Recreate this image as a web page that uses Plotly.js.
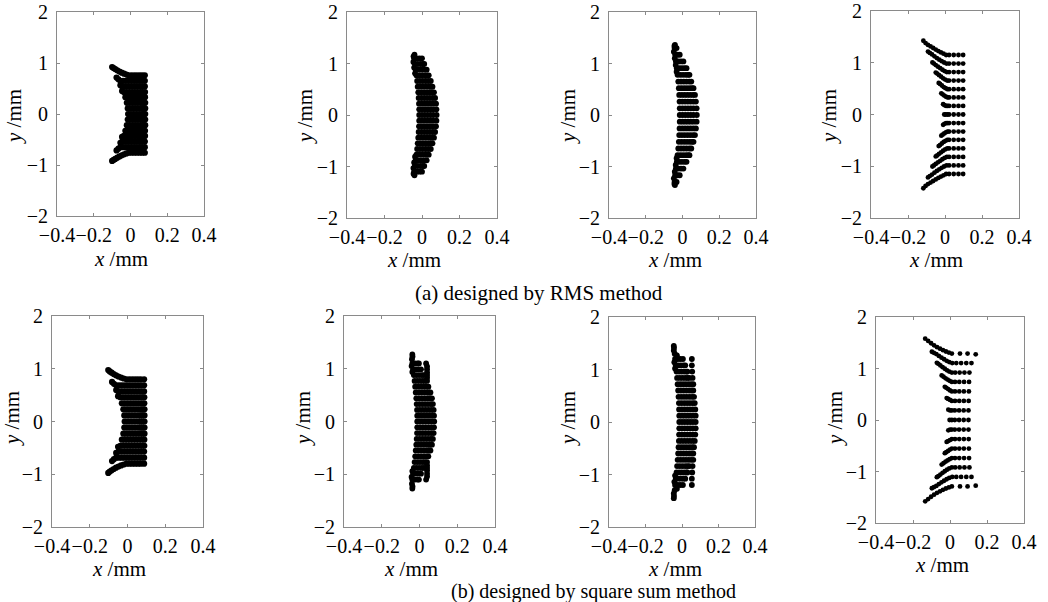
<!DOCTYPE html>
<html>
<head>
<meta charset="utf-8">
<script src="https://cdn.plot.ly/plotly-3.0.1.min.js"></script>
<style>
  html, body { margin: 0; padding: 0; background: #ffffff; }
  #chart { width: 1048px; height: 602px; }
</style>
</head>
<body>
<div id="chart"></div>
<script>
// Spot diagrams, coordinates in mm.
// Row arrays: [row y, x of each spot on that row]
// End arrays: [x, y] spots where a row bends away from its line

// ---- (a) designed by RMS method ----
const a1Rows = [
  [0.76, -0.01, 0.005, 0.02, 0.035, 0.05, 0.064, 0.078],
  [0.65, -0.055, -0.04, -0.025, -0.01, 0.005, 0.02, 0.035, 0.05, 0.064, 0.078],
  [0.54, -0.045, -0.03, -0.015, 0, 0.015, 0.03, 0.045, 0.06, 0.078],
  [0.43, -0.036, -0.021, -0.006, 0.009, 0.024, 0.039, 0.054, 0.066, 0.079],
  [0.33, -0.028, -0.013, 0.002, 0.017, 0.032, 0.047, 0.062, 0.079],
  [0.22, -0.02, -0.005, 0.01, 0.025, 0.04, 0.055, 0.068, 0.08],
  [0.11, -0.015, 0, 0.015, 0.03, 0.045, 0.06, 0.07, 0.08],
  [0, -0.013, 0.002, 0.017, 0.032, 0.047, 0.062, 0.071, 0.08],
  [-0.11, -0.015, 0, 0.015, 0.03, 0.045, 0.06, 0.07, 0.08],
  [-0.22, -0.02, -0.005, 0.01, 0.025, 0.04, 0.055, 0.068, 0.08],
  [-0.33, -0.028, -0.013, 0.002, 0.017, 0.032, 0.047, 0.062, 0.079],
  [-0.43, -0.036, -0.021, -0.006, 0.009, 0.024, 0.039, 0.054, 0.066, 0.079],
  [-0.54, -0.045, -0.03, -0.015, 0, 0.015, 0.03, 0.045, 0.06, 0.078],
  [-0.65, -0.055, -0.04, -0.025, -0.01, 0.005, 0.02, 0.035, 0.05, 0.064, 0.078],
  [-0.76, -0.01, 0.005, 0.02, 0.035, 0.05, 0.064, 0.078]
];
const a1Ends = [
  [-0.022, 0.773], [-0.035, 0.79], [-0.048, 0.81], [-0.06, 0.832], [-0.072, 0.856],
  [-0.083, 0.88], [-0.092, 0.9], [-0.1, 0.92], [-0.066, 0.68], [-0.076, 0.715],
  [-0.055, 0.565], [-0.046, 0.45],
  [-0.022, -0.773], [-0.035, -0.79], [-0.048, -0.81], [-0.06, -0.832], [-0.072, -0.856],
  [-0.083, -0.88], [-0.092, -0.9], [-0.1, -0.92], [-0.066, -0.68], [-0.076, -0.715],
  [-0.055, -0.565], [-0.046, -0.45]
];

const a2Rows = [
  [1.1, -0.042, -0.028, -0.014, 0],
  [0.99, -0.038, -0.023, -0.008, 0.004, 0.012],
  [0.88, -0.034, -0.019, -0.004, 0.01, 0.025],
  [0.77, -0.03, -0.015, 0, 0.015, 0.026, 0.036],
  [0.66, -0.026, -0.011, 0.004, 0.019, 0.033, 0.047],
  [0.55, -0.023, -0.008, 0.007, 0.022, 0.037, 0.048, 0.056],
  [0.44, -0.02, -0.005, 0.01, 0.025, 0.04, 0.053, 0.064],
  [0.33, -0.018, -0.003, 0.012, 0.027, 0.042, 0.057, 0.07],
  [0.22, -0.016, -0.001, 0.014, 0.029, 0.044, 0.059, 0.075],
  [0.11, -0.015, 0, 0.015, 0.03, 0.045, 0.06, 0.077],
  [0, -0.015, 0, 0.015, 0.03, 0.045, 0.06, 0.078],
  [-0.11, -0.015, 0, 0.015, 0.03, 0.045, 0.06, 0.077],
  [-0.22, -0.016, -0.001, 0.014, 0.029, 0.044, 0.059, 0.075],
  [-0.33, -0.018, -0.003, 0.012, 0.027, 0.042, 0.057, 0.07],
  [-0.44, -0.02, -0.005, 0.01, 0.025, 0.04, 0.053, 0.064],
  [-0.55, -0.023, -0.008, 0.007, 0.022, 0.037, 0.048, 0.056],
  [-0.66, -0.026, -0.011, 0.004, 0.019, 0.033, 0.047],
  [-0.77, -0.03, -0.015, 0, 0.015, 0.026, 0.036],
  [-0.88, -0.034, -0.019, -0.004, 0.01, 0.025],
  [-0.99, -0.038, -0.023, -0.008, 0.004, 0.012],
  [-1.1, -0.042, -0.028, -0.014, 0]
];
const a2Ends = [
  [-0.045, 1.14], [-0.04, 1.17], [-0.046, 1.03], [-0.042, 0.92], [-0.037, 0.81],
  [-0.045, -1.14], [-0.04, -1.17], [-0.046, -1.03], [-0.042, -0.92], [-0.037, -0.81]
];

const a3Rows = [
  [1.3, -0.043, -0.032],
  [1.17, -0.04, -0.027, -0.015],
  [1.04, -0.036, -0.022, -0.008, 0.005],
  [0.91, -0.031, -0.017, -0.003, 0.011, 0.022],
  [0.78, -0.027, -0.012, 0.003, 0.018, 0.03, 0.038],
  [0.65, -0.023, -0.008, 0.007, 0.022, 0.037, 0.048],
  [0.52, -0.02, -0.005, 0.01, 0.025, 0.04, 0.052, 0.06],
  [0.39, -0.018, -0.003, 0.012, 0.027, 0.042, 0.057, 0.068],
  [0.26, -0.016, -0.001, 0.014, 0.029, 0.044, 0.059, 0.073],
  [0.13, -0.015, 0, 0.015, 0.03, 0.045, 0.06, 0.077],
  [0, -0.015, 0, 0.015, 0.03, 0.045, 0.06, 0.078],
  [-0.13, -0.015, 0, 0.015, 0.03, 0.045, 0.06, 0.077],
  [-0.26, -0.016, -0.001, 0.014, 0.029, 0.044, 0.059, 0.073],
  [-0.39, -0.018, -0.003, 0.012, 0.027, 0.042, 0.057, 0.068],
  [-0.52, -0.02, -0.005, 0.01, 0.025, 0.04, 0.052, 0.06],
  [-0.65, -0.023, -0.008, 0.007, 0.022, 0.037, 0.048],
  [-0.78, -0.027, -0.012, 0.003, 0.018, 0.03, 0.038],
  [-0.91, -0.031, -0.017, -0.003, 0.011, 0.022],
  [-1.04, -0.036, -0.022, -0.008, 0.005],
  [-1.17, -0.04, -0.027, -0.015],
  [-1.3, -0.043, -0.032]
];
const a3Ends = [
  [-0.044, 1.34], [-0.041, 1.36], [-0.047, 1.23], [-0.042, 1.1], [-0.037, 0.97], [-0.032, 0.84],
  [-0.044, -1.34], [-0.041, -1.36], [-0.047, -1.23], [-0.042, -1.1], [-0.037, -0.97], [-0.032, -0.84]
];

const a4Rows = [
  [1.15, 0.098, 0.073, 0.047, 0.022, 0.006],
  [0.985, 0.098, 0.073, 0.047, 0.022, 0.008],
  [0.82, 0.098, 0.073, 0.047, 0.022, 0.01],
  [0.655, 0.098, 0.073, 0.047, 0.022, 0.012],
  [0.49, 0.098, 0.073, 0.047, 0.022, 0.013],
  [0.33, 0.098, 0.073, 0.047, 0.022, 0.014],
  [0.165, 0.098, 0.073, 0.047, 0.022, 0.014, 0.006],
  [0, 0.098, 0.073, 0.047, 0.022, 0.013, 0.004, -0.004],
  [-0.165, 0.098, 0.073, 0.047, 0.022, 0.014, 0.006],
  [-0.33, 0.098, 0.073, 0.047, 0.022, 0.014],
  [-0.49, 0.098, 0.073, 0.047, 0.022, 0.013],
  [-0.655, 0.098, 0.073, 0.047, 0.022, 0.012],
  [-0.82, 0.098, 0.073, 0.047, 0.022, 0.01],
  [-0.985, 0.098, 0.073, 0.047, 0.022, 0.008],
  [-1.15, 0.098, 0.073, 0.047, 0.022, 0.006]
];
const a4Ends = [
  [-0.008, 1.175], [-0.022, 1.2], [-0.036, 1.225], [-0.05, 1.255], [-0.064, 1.285],
  [-0.078, 1.315], [-0.092, 1.345], [-0.105, 1.38], [-0.117, 1.425],
  [-0.005, 1.005], [-0.018, 1.03], [-0.031, 1.06], [-0.044, 1.09], [-0.057, 1.125],
  [-0.07, 1.16], [-0.082, 1.19], [-0.092, 1.215],
  [-0.002, 0.84], [-0.014, 0.865], [-0.026, 0.895], [-0.038, 0.925], [-0.05, 0.955],
  [-0.06, 0.985], [-0.068, 1.005],
  [0.001, 0.675], [-0.01, 0.7], [-0.021, 0.73], [-0.032, 0.76], [-0.042, 0.79], [-0.05, 0.81],
  [0.003, 0.508], [-0.007, 0.53], [-0.017, 0.56], [-0.027, 0.59], [-0.034, 0.61],
  [0.005, 0.345], [-0.004, 0.365], [-0.013, 0.39], [-0.02, 0.41],
  [-0.003, 0.18], [-0.01, 0.2],
  [-0.008, -1.175], [-0.022, -1.2], [-0.036, -1.225], [-0.05, -1.255], [-0.064, -1.285],
  [-0.078, -1.315], [-0.092, -1.345], [-0.105, -1.38], [-0.117, -1.425],
  [-0.005, -1.005], [-0.018, -1.03], [-0.031, -1.06], [-0.044, -1.09], [-0.057, -1.125],
  [-0.07, -1.16], [-0.082, -1.19], [-0.092, -1.215],
  [-0.002, -0.84], [-0.014, -0.865], [-0.026, -0.895], [-0.038, -0.925], [-0.05, -0.955],
  [-0.06, -0.985], [-0.068, -1.005],
  [0.001, -0.675], [-0.01, -0.7], [-0.021, -0.73], [-0.032, -0.76], [-0.042, -0.79], [-0.05, -0.81],
  [0.003, -0.508], [-0.007, -0.53], [-0.017, -0.56], [-0.027, -0.59], [-0.034, -0.61],
  [0.005, -0.345], [-0.004, -0.365], [-0.013, -0.39], [-0.02, -0.41],
  [-0.003, -0.18], [-0.01, -0.2]
];

// ---- (b) designed by square sum method ----
const b1Rows = [
  [0.8, -0.005, 0.01, 0.025, 0.04, 0.055, 0.07, 0.088],
  [0.685, -0.06, -0.045, -0.03, -0.015, 0, 0.015, 0.03, 0.045, 0.06, 0.074, 0.088],
  [0.57, -0.048, -0.033, -0.018, -0.003, 0.012, 0.027, 0.042, 0.057, 0.072, 0.088],
  [0.46, -0.038, -0.023, -0.008, 0.007, 0.022, 0.037, 0.052, 0.067, 0.079, 0.089],
  [0.345, -0.03, -0.015, 0, 0.015, 0.03, 0.045, 0.06, 0.075, 0.089],
  [0.23, -0.022, -0.007, 0.008, 0.023, 0.038, 0.053, 0.068, 0.08, 0.09],
  [0.115, -0.017, -0.002, 0.013, 0.028, 0.043, 0.058, 0.07, 0.08, 0.09],
  [0, -0.015, 0, 0.015, 0.03, 0.045, 0.06, 0.07, 0.08, 0.09],
  [-0.115, -0.017, -0.002, 0.013, 0.028, 0.043, 0.058, 0.07, 0.08, 0.09],
  [-0.23, -0.022, -0.007, 0.008, 0.023, 0.038, 0.053, 0.068, 0.08, 0.09],
  [-0.345, -0.03, -0.015, 0, 0.015, 0.03, 0.045, 0.06, 0.075, 0.089],
  [-0.46, -0.038, -0.023, -0.008, 0.007, 0.022, 0.037, 0.052, 0.067, 0.079, 0.089],
  [-0.57, -0.048, -0.033, -0.018, -0.003, 0.012, 0.027, 0.042, 0.057, 0.072, 0.088],
  [-0.685, -0.06, -0.045, -0.03, -0.015, 0, 0.015, 0.03, 0.045, 0.06, 0.074, 0.088],
  [-0.8, -0.005, 0.01, 0.025, 0.04, 0.055, 0.07, 0.088]
];
const b1Ends = [
  [-0.02, 0.815], [-0.034, 0.832], [-0.048, 0.853], [-0.061, 0.876], [-0.073, 0.9],
  [-0.084, 0.925], [-0.094, 0.95], [-0.102, 0.975], [-0.072, 0.715], [-0.082, 0.75],
  [-0.06, 0.595], [-0.05, 0.48],
  [-0.02, -0.815], [-0.034, -0.832], [-0.048, -0.853], [-0.061, -0.876], [-0.073, -0.9],
  [-0.084, -0.925], [-0.094, -0.95], [-0.102, -0.975], [-0.072, -0.715], [-0.082, -0.75],
  [-0.06, -0.595], [-0.05, -0.48]
];

const b2Rows = [
  [1.1, -0.038, -0.024, -0.01, -0.003, 0.035],
  [0.99, -0.034, -0.02, -0.006, 0.008, 0.04],
  [0.88, -0.03, -0.016, -0.002, 0.012, 0.022, 0.04],
  [0.77, -0.026, -0.012, 0.002, 0.016, 0.028, 0.04],
  [0.66, -0.023, -0.008, 0.007, 0.022, 0.035, 0.047],
  [0.55, -0.02, -0.005, 0.01, 0.025, 0.04, 0.05, 0.058],
  [0.44, -0.017, -0.002, 0.013, 0.028, 0.043, 0.056, 0.066],
  [0.33, -0.015, 0, 0.015, 0.03, 0.045, 0.06, 0.071],
  [0.22, -0.013, 0.002, 0.017, 0.032, 0.047, 0.062, 0.075],
  [0.11, -0.012, 0.003, 0.018, 0.033, 0.048, 0.063, 0.077],
  [0, -0.012, 0.003, 0.018, 0.033, 0.048, 0.063, 0.078],
  [-0.11, -0.012, 0.003, 0.018, 0.033, 0.048, 0.063, 0.077],
  [-0.22, -0.013, 0.002, 0.017, 0.032, 0.047, 0.062, 0.075],
  [-0.33, -0.015, 0, 0.015, 0.03, 0.045, 0.06, 0.071],
  [-0.44, -0.017, -0.002, 0.013, 0.028, 0.043, 0.056, 0.066],
  [-0.55, -0.02, -0.005, 0.01, 0.025, 0.04, 0.05, 0.058],
  [-0.66, -0.023, -0.008, 0.007, 0.022, 0.035, 0.047],
  [-0.77, -0.026, -0.012, 0.002, 0.016, 0.028, 0.04],
  [-0.88, -0.03, -0.016, -0.002, 0.012, 0.022, 0.04],
  [-0.99, -0.034, -0.02, -0.006, 0.008, 0.04],
  [-1.1, -0.038, -0.024, -0.01, -0.003, 0.035]
];
const b2Ends = [
  [-0.04, 1.18], [-0.037, 1.23], [-0.038, 1.27], [-0.042, 1.05], [-0.038, 0.94],
  [0.04, 1.045], [0.04, 0.93], [0.04, 0.83],
  [-0.04, -1.18], [-0.037, -1.23], [-0.038, -1.27], [-0.042, -1.05], [-0.038, -0.94],
  [0.04, -1.045], [0.04, -0.93], [0.04, -0.83]
];

const b3Rows = [
  [1.2, -0.038, -0.024, -0.01, 0.005, 0.054],
  [1.08, -0.034, -0.02, -0.006, 0.008, 0.018, 0.054],
  [0.96, -0.03, -0.016, -0.002, 0.012, 0.024, 0.03, 0.056],
  [0.84, -0.027, -0.012, 0.003, 0.018, 0.03, 0.04, 0.058],
  [0.72, -0.024, -0.009, 0.006, 0.021, 0.036, 0.05, 0.062],
  [0.6, -0.021, -0.006, 0.009, 0.024, 0.039, 0.052, 0.062],
  [0.48, -0.019, -0.004, 0.011, 0.026, 0.041, 0.055, 0.066],
  [0.36, -0.017, -0.002, 0.013, 0.028, 0.043, 0.058, 0.07],
  [0.24, -0.016, -0.001, 0.014, 0.029, 0.044, 0.059, 0.073],
  [0.12, -0.015, 0, 0.015, 0.03, 0.045, 0.06, 0.075],
  [0, -0.015, 0, 0.015, 0.03, 0.045, 0.06, 0.075],
  [-0.12, -0.015, 0, 0.015, 0.03, 0.045, 0.06, 0.075],
  [-0.24, -0.016, -0.001, 0.014, 0.029, 0.044, 0.059, 0.073],
  [-0.36, -0.017, -0.002, 0.013, 0.028, 0.043, 0.058, 0.07],
  [-0.48, -0.019, -0.004, 0.011, 0.026, 0.041, 0.055, 0.066],
  [-0.6, -0.021, -0.006, 0.009, 0.024, 0.039, 0.052, 0.062],
  [-0.72, -0.024, -0.009, 0.006, 0.021, 0.036, 0.05, 0.062],
  [-0.84, -0.027, -0.012, 0.003, 0.018, 0.03, 0.04, 0.058],
  [-0.96, -0.03, -0.016, -0.002, 0.012, 0.024, 0.03, 0.056],
  [-1.08, -0.034, -0.02, -0.006, 0.008, 0.018, 0.054],
  [-1.2, -0.038, -0.024, -0.01, 0.005, 0.054]
];
const b3Ends = [
  [-0.028, 1.27], [-0.04, 1.3], [-0.045, 1.36], [-0.044, 1.41], [-0.045, 1.45],
  [-0.042, 1.14], [-0.038, 1.02],
  [-0.028, -1.27], [-0.04, -1.3], [-0.045, -1.36], [-0.044, -1.41], [-0.045, -1.45],
  [-0.042, -1.14], [-0.038, -1.02]
];

const b4Rows = [
  [1.29, 0.095, 0.054, 0.01],
  [1.105, 0.116, 0.088, 0.06, 0.034, 0.012],
  [0.92, 0.105, 0.078, 0.052, 0.028, 0.01],
  [0.74, 0.103, 0.076, 0.05, 0.027, 0.01],
  [0.555, 0.102, 0.075, 0.05, 0.027, 0.01],
  [0.37, 0.101, 0.075, 0.05, 0.027, 0.01],
  [0.185, 0.1, 0.074, 0.049, 0.026, 0.01, 0],
  [0, 0.1, 0.074, 0.049, 0.026, 0.01, -0.002],
  [-0.185, 0.1, 0.074, 0.049, 0.026, 0.01, 0],
  [-0.37, 0.101, 0.075, 0.05, 0.027, 0.01],
  [-0.555, 0.102, 0.075, 0.05, 0.027, 0.01],
  [-0.74, 0.103, 0.076, 0.05, 0.027, 0.01],
  [-0.92, 0.105, 0.078, 0.052, 0.028, 0.01],
  [-1.105, 0.116, 0.088, 0.06, 0.034, 0.012],
  [-1.29, 0.095, 0.054, 0.01]
];
const b4Ends = [
  [0.139, 1.275],
  [-0.006, 1.31], [-0.022, 1.33], [-0.038, 1.355], [-0.054, 1.385], [-0.07, 1.415],
  [-0.086, 1.45], [-0.102, 1.49], [-0.118, 1.535], [-0.134, 1.58],
  [-0.004, 1.125], [-0.018, 1.15], [-0.032, 1.18], [-0.046, 1.21], [-0.06, 1.245],
  [-0.074, 1.28], [-0.087, 1.305], [-0.098, 1.325],
  [-0.004, 0.94], [-0.016, 0.965], [-0.028, 0.995], [-0.04, 1.025], [-0.052, 1.06],
  [-0.063, 1.09], [-0.071, 1.11],
  [-0.002, 0.76], [-0.013, 0.785], [-0.024, 0.81], [-0.035, 0.84], [-0.045, 0.865],
  [0, 0.575], [-0.01, 0.6], [-0.02, 0.625], [-0.028, 0.645],
  [0, 0.39], [-0.01, 0.41], [-0.018, 0.425],
  [-0.009, 0.2],
  [0.139, -1.275],
  [-0.006, -1.31], [-0.022, -1.33], [-0.038, -1.355], [-0.054, -1.385], [-0.07, -1.415],
  [-0.086, -1.45], [-0.102, -1.49], [-0.118, -1.535], [-0.134, -1.58],
  [-0.004, -1.125], [-0.018, -1.15], [-0.032, -1.18], [-0.046, -1.21], [-0.06, -1.245],
  [-0.074, -1.28], [-0.087, -1.305], [-0.098, -1.325],
  [-0.004, -0.94], [-0.016, -0.965], [-0.028, -0.995], [-0.04, -1.025], [-0.052, -1.06],
  [-0.063, -1.09], [-0.071, -1.11],
  [-0.002, -0.76], [-0.013, -0.785], [-0.024, -0.81], [-0.035, -0.84], [-0.045, -0.865],
  [0, -0.575], [-0.01, -0.6], [-0.02, -0.625], [-0.028, -0.645],
  [0, -0.39], [-0.01, -0.41], [-0.018, -0.425],
  [-0.009, -0.2]
];

// Tick labels and axis titles
const xTickVals = [-0.4, -0.2, 0, 0.2, 0.4];
const xTickText = ['\u22120.4', '\u22120.2', '0', '0.2', '0.4'];
const yTickVals = [-2, -1, 0, 1, 2];
const yTickText = ['\u22122', '\u22121', '0', '1', '2'];
const xTitle = '<i>x</i> /mm';
const yTitle = '<i>y</i> /mm';

const captions = ['(a) designed by RMS method', '(b) designed by square sum method'];

// ---- drawing ----
const W = 1048, H = 602;
const FONT = 'Liberation Serif, Times New Roman, serif';

// plot-area boxes in px: [left, top, right, bottom]
const boxes = [
  [57, 12, 204, 216], [347, 12, 497, 218], [609, 12, 756, 218], [871, 11, 1019, 218],
  [52, 316, 203, 527], [344, 316, 495, 527], [609, 317, 755, 527], [876, 317, 1024, 523]
];
// spot marker diameter per panel (px)
const spotSize = [6.2, 5.8, 5.8, 4.8, 6.2, 5.8, 5.8, 4.8];
// axis-title centres in px: [x-title cx, x-title cy, y-title cx, y-title cy]
const titlePos = [
  [121, 259, 14, 117], [414, 260, 305, 117], [675, 260, 568, 117], [936, 260, 829, 117],
  [119, 569, 12, 419], [411, 569, 303, 419], [675, 569, 568, 419], [942, 565, 835, 419]
];
// caption centres in px, font sizes
const captionPos = [[539, 293], [593, 591]];
const captionSize = [21, 20];

const panelData = [
  [a1Rows, a1Ends], [a2Rows, a2Ends], [a3Rows, a3Ends], [a4Rows, a4Ends],
  [b1Rows, b1Ends], [b2Rows, b2Ends], [b3Rows, b3Ends], [b4Rows, b4Ends]
];

function spots(rows, ends) {
  const x = [], y = [];
  rows.forEach(r => {
    for (let k = 1; k < r.length; k++) { x.push(r[k]); y.push(r[0]); }
  });
  ends.forEach(p => { x.push(p[0]); y.push(p[1]); });
  return { x, y };
}

function paperText(text, cx, cy, size, angle) {
  return {
    text: text, xref: 'paper', yref: 'paper', x: cx / W, y: 1 - cy / H,
    xanchor: 'center', yanchor: 'middle', showarrow: false, textangle: angle || 0,
    borderpad: 0,
    font: { family: FONT, size: size, color: '#000000' }
  };
}

const traces = [];
const layout = {
  width: W, height: H,
  margin: { l: 0, r: 0, t: 0, b: 0 },
  paper_bgcolor: '#ffffff',
  plot_bgcolor: '#ffffff',
  showlegend: false,
  font: { family: FONT, color: '#000000', size: 20 },
  annotations: []
};

panelData.forEach((pd, i) => {
  const n = i === 0 ? '' : String(i + 1);
  const s = spots(pd[0], pd[1]);
  traces.push({
    type: 'scatter', mode: 'markers',
    x: s.x, y: s.y,
    xaxis: 'x' + n, yaxis: 'y' + n,
    marker: { size: spotSize[i], color: '#000000', line: { width: 0 } },
    hoverinfo: 'skip'
  });
  const b = boxes[i];
  const common = {
    showgrid: false, zeroline: false,
    showline: true, mirror: 'ticks', linecolor: '#8a8a8a', linewidth: 1,
    ticks: 'inside', ticklen: 3, tickcolor: '#8a8a8a', tickwidth: 1,
    tickfont: { family: FONT, size: 20, color: '#000000' },
    tickangle: 0,
    fixedrange: true
  };
  layout['xaxis' + n] = Object.assign({}, common, {
    domain: [b[0] / W, b[2] / W],
    anchor: 'y' + n,
    range: [-0.4, 0.4],
    tickmode: 'array', tickvals: xTickVals, ticktext: xTickText,
    ticklabelstandoff: 1
  });
  layout['yaxis' + n] = Object.assign({}, common, {
    domain: [1 - b[3] / H, 1 - b[1] / H],
    anchor: 'x' + n,
    range: [-2, 2],
    tickmode: 'array', tickvals: yTickVals, ticktext: yTickText,
    ticklabelstandoff: 4
  });
  const t = titlePos[i];
  layout.annotations.push(paperText(xTitle, t[0], t[1], 21, 0));
  layout.annotations.push(paperText(yTitle, t[2], t[3], 21, -90));
});

captions.forEach((c, k) => {
  layout.annotations.push(paperText(c, captionPos[k][0], captionPos[k][1], captionSize[k], 0));
});

Plotly.newPlot('chart', traces, layout, { staticPlot: true, displayModeBar: false });
</script>
</body>
</html>
